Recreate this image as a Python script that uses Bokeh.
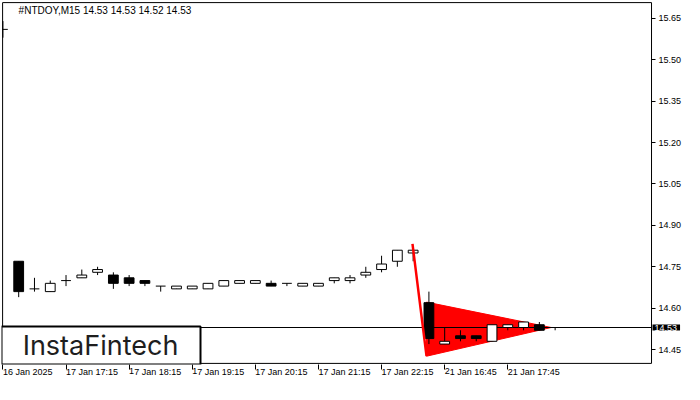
from bokeh.plotting import figure
from bokeh.models import Range1d, Label, BoxAnnotation, FixedTicker
from bokeh.embed import file_html
from bokeh.resources import INLINE

# ---------------- data ----------------
symbol = "#NTDOY,M15"
bar_index = list(range(36))
opens = [15.61, 14.77, 14.67, 14.66, 14.70, 14.71, 14.73, 14.72, 14.71, 14.70,
         14.68, 14.67, 14.67, 14.67, 14.68, 14.69, 14.69, 14.69, 14.69, 14.68,
         14.68, 14.70, 14.70, 14.72, 14.74, 14.77, 14.80, 14.62, 14.47, 14.50,
         14.50, 14.48, 14.53, 14.53, 14.54, 14.53]
highs = [15.64, 14.77, 14.71, 14.70, 14.72, 14.74, 14.75, 14.73, 14.72, 14.70,
         14.68, 14.68, 14.68, 14.69, 14.70, 14.70, 14.70, 14.70, 14.69, 14.69,
         14.69, 14.71, 14.72, 14.75, 14.79, 14.81, 14.81, 14.66, 14.53, 14.52,
         14.50, 14.54, 14.54, 14.55, 14.55, 14.53]
lows = [15.58, 14.64, 14.66, 14.66, 14.68, 14.71, 14.72, 14.67, 14.68, 14.68,
        14.66, 14.67, 14.67, 14.67, 14.68, 14.69, 14.69, 14.68, 14.68, 14.68,
        14.68, 14.69, 14.69, 14.71, 14.73, 14.75, 14.77, 14.47, 14.47, 14.48,
        14.48, 14.48, 14.52, 14.52, 14.52, 14.52]
closes = [15.61, 14.66, 14.67, 14.69, 14.70, 14.72, 14.74, 14.69, 14.69, 14.69,
          14.68, 14.68, 14.68, 14.69, 14.70, 14.70, 14.70, 14.68, 14.69, 14.69,
          14.69, 14.71, 14.71, 14.73, 14.76, 14.81, 14.81, 14.49, 14.48, 14.49,
          14.49, 14.54, 14.54, 14.55, 14.52, 14.53]

x_tick_pos = [0, 4, 8, 12, 16, 20, 24, 28, 32]
x_tick_labels = ["16 Jan 2025", "17 Jan 17:15", "17 Jan 18:15", "17 Jan 19:15",
                 "17 Jan 20:15", "17 Jan 21:15", "17 Jan 22:15", "21 Jan 16:45",
                 "21 Jan 17:45"]
y_ticks = [14.45, 14.60, 14.75, 14.90, 15.05, 15.20, 15.35, 15.50, 15.65]
current_price = 14.53

# bearish pennant pattern
pole_x = [25.96, 26.85]
pole_y = [14.833, 14.426]
pennant_x = [26.85, 26.85, 34.75]
pennant_y = [14.622, 14.426, 14.530]

# visible chart window (in bars / price)
x_start, x_vis_end = -0.02, 41.11
y_start, y_end = 14.400, 15.707
pad_x, pad_y = 0.07, 0.004
x_ext_end = 43.2   # extra room on the right for the price scale

# ---------------- figure ----------------
p = figure(width=684, height=384, output_backend="svg", toolbar_location=None,
           x_range=Range1d(x_start - pad_x, x_ext_end),
           y_range=Range1d(y_start - pad_y, y_end + pad_y),
           y_axis_location="right", min_border_left=1, min_border_top=1,
           min_border_right=0, min_border_bottom=0)
p.background_fill_color = "white"
p.border_fill_color = "white"
p.outline_line_color = None
p.grid.visible = False

AX_FONT = "Liberation Sans"
for ax in (p.xaxis[0], p.yaxis[0]):
    ax.axis_line_color = None
    ax.major_tick_in = 0
    ax.major_tick_out = 4
    ax.major_tick_line_color = "black"
    ax.minor_tick_line_color = None
    ax.major_label_text_font = AX_FONT
    ax.major_label_text_font_size = "9px"
    ax.major_label_text_color = "black"
    ax.major_label_standoff = 2

p.xaxis.ticker = FixedTicker(ticks=x_tick_pos)
p.xaxis.major_label_overrides = {pos: lab for pos, lab in zip(x_tick_pos, x_tick_labels)}
p.xaxis.major_label_orientation = -0.0001
p.xaxis.major_tick_out = 5
p.yaxis.ticker = FixedTicker(ticks=y_ticks)
p.yaxis.major_label_overrides = {t: f"{t:.2f}" for t in y_ticks}
p.yaxis.fixed_location = x_vis_end
p.yaxis.major_label_standoff = 3

# chart window border
p.quad(left=[x_start], right=[x_vis_end], bottom=[y_start], top=[y_end],
       fill_color=None, line_color="black", line_width=1)

# pennant
p.patch(pennant_x, pennant_y, fill_color="#FF0000", line_color="#FF0000", line_width=1)

# current price line
p.segment(x0=[x_start], y0=[current_price], x1=[x_vis_end], y1=[current_price],
          line_color="black", line_width=1)

# candles
w = 0.62
p.segment(x0=bar_index, y0=lows, x1=bar_index, y1=highs, line_color="black", line_width=1)

up_x, up_top, up_bot = [], [], []
dn_x, dn_top, dn_bot = [], [], []
dj_x0, dj_x1, dj_y = [], [], []
for i, o, c in zip(bar_index, opens, closes):
    if abs(c - o) < 1e-9:
        dj_x0.append(i - w / 2)
        dj_x1.append(i + w / 2)
        dj_y.append(o)
    elif c > o:
        up_x.append(i); up_top.append(c); up_bot.append(o)
    else:
        dn_x.append(i); dn_top.append(o); dn_bot.append(c)

p.vbar(x=up_x, top=up_top, bottom=up_bot, width=w, fill_color="white",
       line_color="black", line_width=1)
p.vbar(x=dn_x, top=dn_top, bottom=dn_bot, width=w, fill_color="black",
       line_color="black", line_width=1)
# the first candle is partly hidden behind the window's left edge
p.segment(x0=[max(x, x_start) for x in dj_x0], y0=dj_y, x1=dj_x1, y1=dj_y,
          line_color="black", line_width=1)

# flag pole
p.line(pole_x, pole_y, line_color="#FF0000", line_width=2.5)

# title text
title_text = f"{symbol}  {opens[-1]:.2f} {highs[-1]:.2f} {lows[-1]:.2f} {closes[-1]:.2f}"
p.add_layout(Label(x=x_start, y=y_end, x_offset=16, y_offset=-8, text=title_text,
                   text_font=AX_FONT, text_font_size="10px",
                   text_color="black", text_baseline="middle", text_align="left"))

# current price tag on the price scale
tag_kw = dict(x=x_vis_end, y=current_price, x_offset=1, text=f"{current_price:.2f}",
              text_font=AX_FONT, text_font_size="9px", text_color="white",
              text_baseline="middle", text_align="left",
              background_fill_color="black", background_fill_alpha=1.0)
try:
    tag = Label(padding=dict(left=2, right=3, top=0, bottom=0), **tag_kw)
except Exception:
    tag = Label(padding=1, **tag_kw)
p.add_layout(tag)

# logo
p.add_layout(BoxAnnotation(left=0, right=199, bottom=0, top=38,
                           left_units="screen", right_units="screen",
                           bottom_units="screen", top_units="screen",
                           fill_color="white", fill_alpha=1.0,
                           line_color="black", line_alpha=1.0, line_width=2))
p.add_layout(Label(x=99, y=19, x_units="screen", y_units="screen", text="InstaFintech",
                   text_font="Inter", text_font_size="27px", text_color="#1e1e1e",
                   text_align="center", text_baseline="middle"))

open("out.html", "w").write(file_html(p, INLINE))
